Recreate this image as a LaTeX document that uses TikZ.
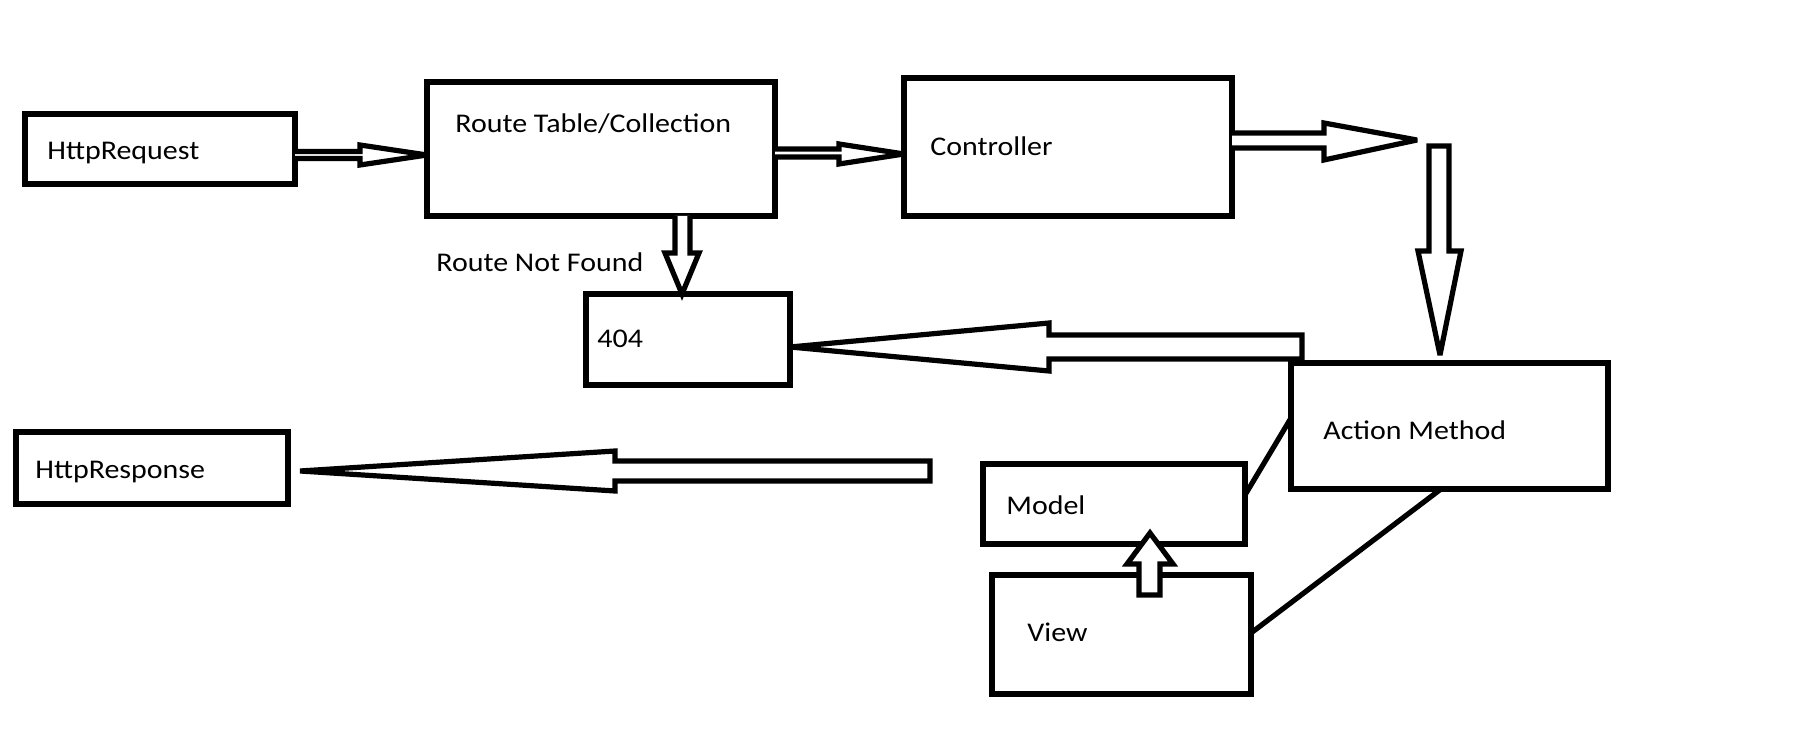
\documentclass[tikz,border=0pt]{standalone}
\usepackage{fontspec}
\usepackage{graphicx}
\setmainfont{Carlito}
\begin{document}
\begin{tikzpicture}[x=0.5pt,y=-0.5pt,
  ln/.style={line width=2.6pt, black},
  box/.style={ln, draw, rectangle, inner sep=0pt, outer sep=0pt},
  lbl/.style={anchor=base west, inner sep=0pt, font=\fontsize{13.5pt}{16pt}\selectfont},
  blk/.style={ln, draw, fill=white, miter limit=4}]
\useasboundingbox (0,0) rectangle (1809,748);
% boxes
\node[box, minimum width=135pt, minimum height=35pt] (req) at (160,149) {};
\node[box, minimum width=174pt, minimum height=67pt] (route) at (601,149) {};
\node[box, minimum width=164pt, minimum height=69pt] (ctrl) at (1068,147) {};
\node[box, minimum width=102pt, minimum height=45.5pt] (nf) at (688,339.5) {};
\node[box, minimum width=158.5pt, minimum height=63pt] (act) at (1449.5,426) {};
\node[box, minimum width=131pt, minimum height=40pt] (model) at (1114,504) {};
\node[box, minimum width=129.5pt, minimum height=59.5pt] (view) at (1121.5,634.5) {};
\node[box, minimum width=136pt, minimum height=36pt] (resp) at (152,468) {};
% labels
\node[lbl] (reqlbl) at (47,160) {\scalebox{1.11}[1]{HttpRequest}};
\node[lbl] (routelbl) at (455,133) {\scalebox{1.11}[1]{Route Table/Collection}};
\node[lbl] (rnf) at (436,272) {\scalebox{1.11}[1]{Route Not Found}};
\node[lbl] (nflbl) at (597,348) {\scalebox{1.11}[1]{404}};
\node[lbl] (ctrllbl) at (930,156) {\scalebox{1.11}[1]{Controller}};
\node[lbl] (resplbl) at (35,479) {\scalebox{1.11}[1]{HttpResponse}};
\node[lbl] (actlbl) at (1323,439) {\scalebox{1.11}[1]{Action Method}};
\node[lbl] (modellbl) at (1006,514) {\scalebox{1.11}[1]{Model}};
\node[lbl] (viewlbl) at (1027,641) {\scalebox{1.11}[1]{View}};
% block arrows
% HttpRequest -> Route
\draw[blk] (req.east |- 0,151.5) -- (360,151.5) -- (360,145) -- (route.west |- 0,155) -- (360,165) -- (360,158.5) -- (req.east |- 0,158.5);
% Route -> Controller
\draw[blk] (route.east |- 0,149) -- (839,149) -- (839,144) -- (ctrl.west |- 0,154) -- (839,164) -- (839,157) -- (route.east |- 0,157);
% Controller -> (right)
\draw[blk] (ctrl.east |- 0,133) -- (1324,133) -- (1324,123) -- (1417,140) -- (1324,160) -- (1324,148) -- (ctrl.east |- 0,148);
% down to Action
\draw[blk] (1429,146) -- (1449,146) -- (1449,251) -- (1461,251) -- (1440,355) -- (1418,251) -- (1429,251) -- cycle;
% Route -> 404
\draw[blk] (675,216) -- (675,253) -- (665,253) -- (nf.north -| 682,0) -- (699,253) -- (690,253) -- (690,216);
% Action -> 404
\draw[blk] (1302,335) -- (1049,335) -- (1049,323) -- (nf.east |- 0,347) -- (1049,371) -- (1049,359) -- (1302,359) -- cycle;
% -> HttpResponse
\draw[blk] (930,461) -- (615,461) -- (615,451) -- (300,471) -- (615,491) -- (615,481) -- (930,481) -- cycle;
% View -> Model
\draw[blk] (1139,595) -- (1139,564) -- (1127,564) -- (1150,533) -- (1173,564) -- (1160,564) -- (1160,595) -- cycle;
% plain lines
\draw[ln] (model.east |- 0,495) -- (act.west |- 0,418);
\draw[ln] (view.east |- 0,633) -- (act.south -| 1441,0);
\end{tikzpicture}
\end{document}
